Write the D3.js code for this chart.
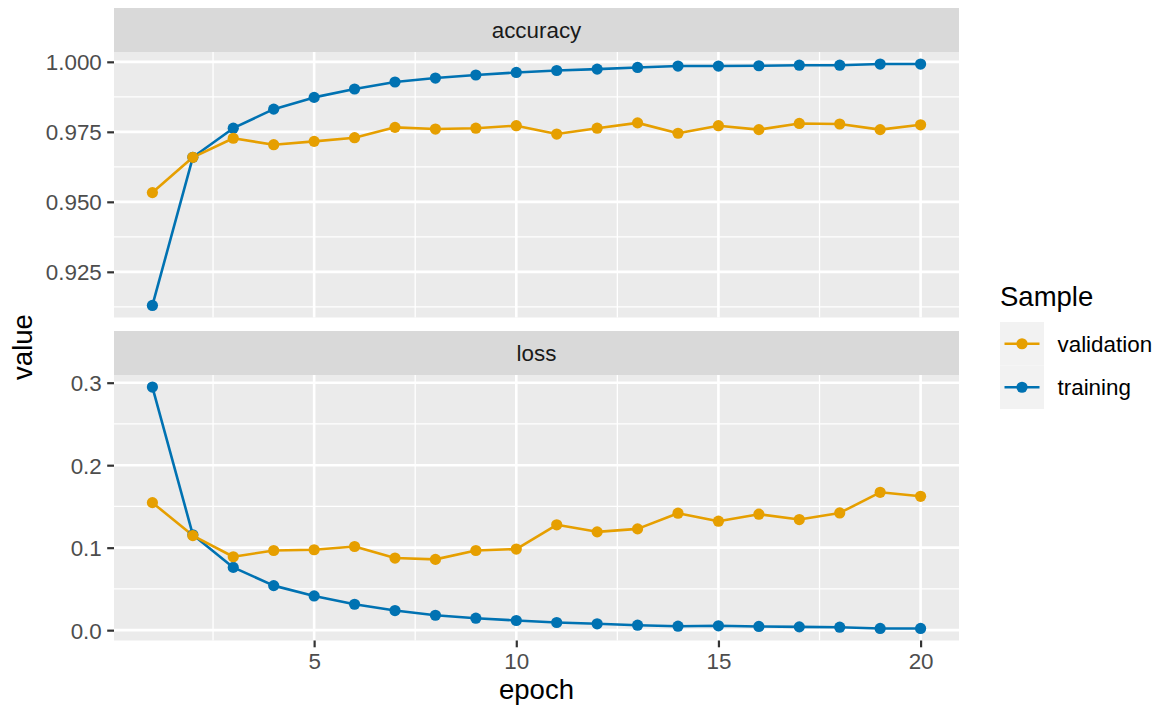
<!DOCTYPE html>
<html>
<head>
<meta charset="utf-8">
<script src="https://cdn.jsdelivr.net/npm/d3@7"></script>
<style>
  body { margin: 0; background: #fff; }
  svg { display: block; }
  text { font-family: "Liberation Sans", Arial, Helvetica, sans-serif; }
</style>
</head>
<body>
<svg id="chart" width="1156" height="707"></svg>
<script>
// Training history per epoch
const epochs = [1, 2, 3, 4, 5, 6, 7, 8, 9, 10, 11, 12, 13, 14, 15, 16, 17, 18, 19, 20];

const accuracyTraining = [0.9130, 0.9659, 0.9763, 0.9831, 0.9873, 0.9903, 0.9928, 0.9942, 0.9953, 0.9962,
                          0.9969, 0.9974, 0.9980, 0.9985, 0.9985, 0.9986, 0.9988, 0.9988, 0.9992, 0.9992];
const accuracyValidation = [0.9533, 0.9659, 0.9727, 0.9704, 0.9716, 0.9729, 0.9766, 0.9760, 0.9763, 0.9772,
                            0.9742, 0.9763, 0.9782, 0.9745, 0.9772, 0.9758, 0.9780, 0.9778, 0.9758, 0.9775];
const lossTraining = [0.2947, 0.1156, 0.0761, 0.0540, 0.0415, 0.0314, 0.0238, 0.0181, 0.0145, 0.0117,
                      0.0093, 0.0077, 0.0060, 0.0048, 0.0053, 0.0045, 0.0040, 0.0036, 0.0021, 0.0021];
const lossValidation = [0.1546, 0.1147, 0.0890, 0.0966, 0.0975, 0.1014, 0.0874, 0.0858, 0.0966, 0.0983,
                        0.1277, 0.1192, 0.1228, 0.1418, 0.1321, 0.1406, 0.1341, 0.1421, 0.1671, 0.1623];

const metrics = ["accuracy", "loss"];
const samples = ["validation", "training"];
const sampleColors = ["#E69F00", "#0072B2"];

const xMajor = [5, 10, 15, 20];
const xMinor = [2.5, 7.5, 12.5, 17.5];
const accuracyMajor = [0.925, 0.950, 0.975, 1.000];
const accuracyMinor = [0.9125, 0.9375, 0.9625, 0.9875];
const lossMajor = [0.0, 0.1, 0.2, 0.3];
const lossMinor = [0.05, 0.15, 0.25];

// Facet table built from the arrays above
const facets = [
  { name: metrics[0], series: { validation: accuracyValidation, training: accuracyTraining },
    major: accuracyMajor, minor: accuracyMinor, fmt: d3.format(".3f") },
  { name: metrics[1], series: { validation: lossValidation, training: lossTraining },
    major: lossMajor, minor: lossMinor, fmt: d3.format(".1f") }
];

const svg = d3.select("#chart");
const color = d3.scaleOrdinal().domain(samples).range(sampleColors);

const smallFont = 22.4, titleFont = 27.5;
const panelLeft = 114, panelRight = 959;
const stripH = 44, panelH = 265.5, spacing = 13.5, topY = 8;

// x scale with 5% expansion, shared by both panels
const xExt = d3.extent(epochs);
const xPad = (xExt[1] - xExt[0]) * 0.05;
const x = d3.scaleLinear().domain([xExt[0] - xPad, xExt[1] + xPad]).range([panelLeft, panelRight]);

facets.forEach((f, i) => {
  const stripTop = topY + i * (stripH + panelH + spacing);
  const pTop = stripTop + stripH;
  const pBottom = pTop + panelH;

  const all = samples.flatMap(s => f.series[s]);
  const ext = d3.extent(all);
  const pad = (ext[1] - ext[0]) * 0.05;
  const y = d3.scaleLinear().domain([ext[0] - pad, ext[1] + pad]).range([pBottom, pTop]);

  const g = svg.append("g");

  // strip
  g.append("rect").attr("x", panelLeft).attr("y", stripTop)
    .attr("width", panelRight - panelLeft).attr("height", stripH).attr("fill", "#D9D9D9");
  g.append("text").attr("x", (panelLeft + panelRight) / 2).attr("y", stripTop + 30)
    .attr("text-anchor", "middle").attr("font-size", smallFont).attr("fill", "#1A1A1A").text(f.name);

  // panel background
  g.append("rect").attr("x", panelLeft).attr("y", pTop)
    .attr("width", panelRight - panelLeft).attr("height", panelH).attr("fill", "#EBEBEB");

  // grid lines
  const grid = g.append("g").attr("stroke", "#FFFFFF");
  grid.selectAll(".hmin").data(f.minor).join("line")
    .attr("x1", panelLeft).attr("x2", panelRight)
    .attr("y1", d => y(d)).attr("y2", d => y(d)).attr("stroke-width", 1.3);
  grid.selectAll(".vmin").data(xMinor).join("line")
    .attr("y1", pTop).attr("y2", pBottom)
    .attr("x1", d => x(d)).attr("x2", d => x(d)).attr("stroke-width", 1.3);
  grid.selectAll(".hmaj").data(f.major).join("line")
    .attr("x1", panelLeft).attr("x2", panelRight)
    .attr("y1", d => y(d)).attr("y2", d => y(d)).attr("stroke-width", 2.6);
  grid.selectAll(".vmaj").data(xMajor).join("line")
    .attr("y1", pTop).attr("y2", pBottom)
    .attr("x1", d => x(d)).attr("x2", d => x(d)).attr("stroke-width", 2.6);

  // y axis
  const yAxis = g.append("g").attr("transform", `translate(${panelLeft},0)`)
    .call(d3.axisLeft(y).tickValues(f.major).tickFormat(f.fmt).tickSize(6.8).tickPadding(5.4));
  yAxis.select(".domain").remove();
  yAxis.selectAll(".tick line").attr("stroke", "#333333").attr("stroke-width", 2.2);
  yAxis.selectAll(".tick text").attr("fill", "#4D4D4D").attr("font-size", smallFont)
    .attr("font-family", "'Liberation Sans', Arial, sans-serif").attr("dy", "0.36em");

  // x axis only under the bottom panel
  if (i === facets.length - 1) {
    const xAxis = g.append("g").attr("transform", `translate(0,${pBottom})`)
      .call(d3.axisBottom(x).tickValues(xMajor).tickFormat(d3.format("d")).tickSize(6.8).tickPadding(5.4));
    xAxis.select(".domain").remove();
    xAxis.selectAll(".tick line").attr("stroke", "#333333").attr("stroke-width", 2.2);
    xAxis.selectAll(".tick text").attr("fill", "#4D4D4D").attr("font-size", smallFont)
      .attr("font-family", "'Liberation Sans', Arial, sans-serif");
  }

  // series: lines then points, training beneath validation
  const drawOrder = ["training", "validation"];
  const line = d3.line().x((d, j) => x(epochs[j])).y(d => y(d));
  drawOrder.forEach(s => {
    g.append("path").datum(f.series[s]).attr("d", line)
      .attr("fill", "none").attr("stroke", color(s)).attr("stroke-width", 2.6)
      .attr("stroke-linejoin", "round");
  });
  drawOrder.forEach(s => {
    g.append("g").selectAll("circle").data(f.series[s]).join("circle")
      .attr("cx", (d, j) => x(epochs[j])).attr("cy", d => y(d)).attr("r", 5.6)
      .attr("fill", color(s));
  });
});

// axis titles
svg.append("text").attr("x", (panelLeft + panelRight) / 2).attr("y", 699)
  .attr("text-anchor", "middle").attr("font-size", titleFont).attr("fill", "#000").text("epoch");
svg.append("text").attr("transform", "translate(32,347) rotate(-90)")
  .attr("text-anchor", "middle").attr("font-size", titleFont).attr("fill", "#000").text("value");

// legend
const legend = svg.append("g");
legend.append("text").attr("x", 1000).attr("y", 306).attr("font-size", titleFont).attr("fill", "#000").text("Sample");
const keyH = 43.5, keyW = 44, keyTop = 322;
samples.forEach((s, k) => {
  const cy = keyTop + k * keyH + keyH / 2;
  legend.append("rect").attr("x", 1000).attr("y", keyTop + k * keyH)
    .attr("width", keyW).attr("height", keyH).attr("fill", "#F2F2F2");
  legend.append("line").attr("x1", 1004.5).attr("x2", 1039.5).attr("y1", cy).attr("y2", cy)
    .attr("stroke", color(s)).attr("stroke-width", 2.6);
  legend.append("circle").attr("cx", 1022).attr("cy", cy).attr("r", 5.6).attr("fill", color(s));
  legend.append("text").attr("x", 1057.5).attr("y", cy + 8).attr("font-size", smallFont)
    .attr("fill", "#000").text(s);
});
</script>
</body>
</html>
